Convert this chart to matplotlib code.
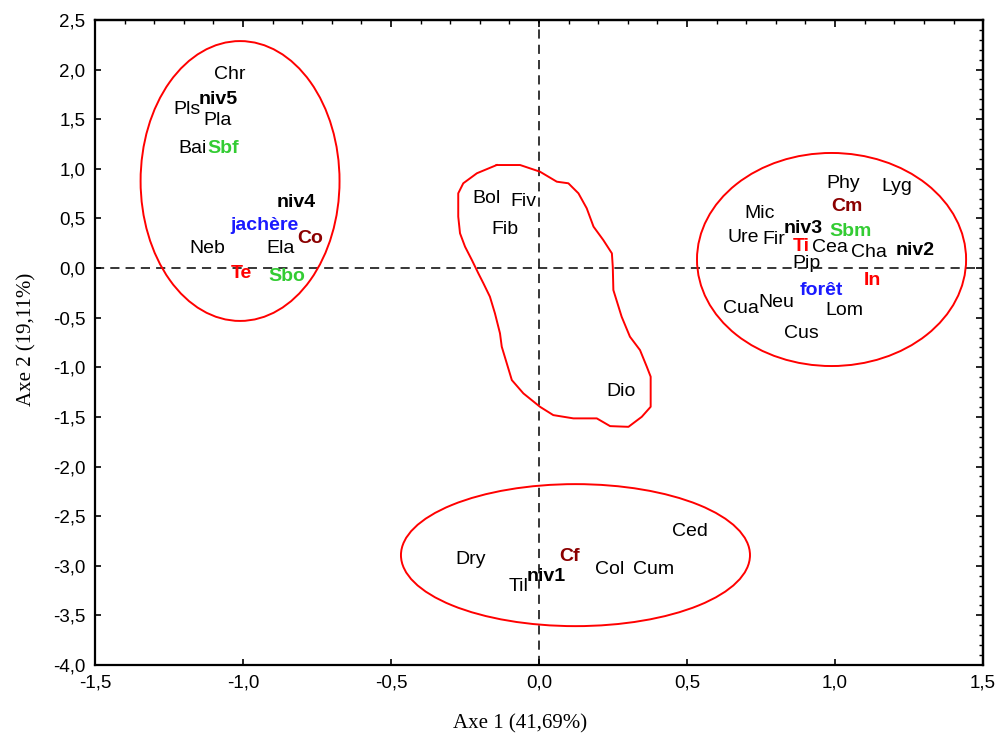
import numpy as np
import matplotlib
matplotlib.use("Agg")
import matplotlib.pyplot as plt
from matplotlib.patches import Ellipse
from matplotlib.ticker import MultipleLocator, FuncFormatter

# species / variables : name, axe 1, axe 2, kind
labels = ["Chr", "niv5", "Pls", "Pla", "Bai", "Sbf", "niv4", "jachère", "Co", "Neb", "Ela", "Te", "Sbo",
          "Phy", "Lyg", "Cm", "Mic", "niv3", "Sbm", "Ure", "Fir", "Ti", "Cea", "Cha", "niv2", "Pip", "In",
          "forêt", "Neu", "Cua", "Lom", "Cus",
          "Bol", "Fiv", "Fib", "Dio",
          "Ced", "Dry", "Cf", "Col", "Cum", "niv1", "Til"]
axe1 = [-1.046, -1.083, -1.190, -1.087, -1.170, -1.067, -0.819, -0.929, -0.774, -1.119, -0.873, -1.004, -0.852,
        1.026, 1.208, 1.039, 0.744, 0.893, 1.053, 0.690, 0.794, 0.884, 0.983, 1.113, 1.270, 0.902, 1.126,
        0.952, 0.801, 0.681, 1.031, 0.885,
        -0.177, -0.053, -0.115, 0.277,
        0.510, -0.231, 0.102, 0.240, 0.386, 0.023, -0.070]
axe2 = [1.953, 1.700, 1.600, 1.490, 1.207, 1.207, 0.659, 0.433, 0.300, 0.198, 0.198, -0.054, -0.081,
        0.854, 0.820, 0.625, 0.551, 0.400, 0.373, 0.309, 0.292, 0.222, 0.209, 0.154, 0.181, 0.047, -0.128,
        -0.229, -0.350, -0.406, -0.423, -0.658,
        0.702, 0.668, 0.390, -1.247,
        -2.658, -2.933, -2.910, -3.037, -3.037, -3.105, -3.206]
kinds = ["sp", "niv", "sp", "sp", "sp", "sol", "niv", "usage", "cult", "sp", "sp", "topo", "sol",
         "sp", "sp", "cult", "sp", "niv", "sol", "sp", "sp", "topo", "sp", "sp", "niv", "sp", "topo",
         "usage", "sp", "sp", "sp", "sp",
         "sp", "sp", "sp", "sp",
         "sp", "sp", "cult", "sp", "sp", "niv", "sp"]

kind_color = {"sp": "black", "niv": "black", "sol": "#33cc33", "usage": "#1a1aff",
              "cult": "#8b0000", "topo": "#ff0000"}

# groups drawn as ellipses: centre x, centre y, width, height
ell_x = [-1.010, 0.988, 0.123]
ell_y = [0.877, 0.086, -2.893]
ell_w = [0.672, 0.909, 1.179]
ell_h = [2.82, 2.147, 1.431]

# outline of the central group
blob_x = [-0.143, -0.064, 0.003, 0.060, 0.099, 0.133, 0.161, 0.184, 0.217, 0.246, 0.249, 0.251, 0.279,
          0.307, 0.341, 0.364, 0.377, 0.377, 0.347, 0.302, 0.240, 0.195, 0.116, 0.048, 0.003, -0.053,
          -0.092, -0.109, -0.126, -0.132, -0.149, -0.166, -0.188, -0.205, -0.227, -0.250, -0.267,
          -0.273, -0.273, -0.256, -0.210, -0.143]
blob_y = [1.038, 1.038, 0.971, 0.870, 0.854, 0.753, 0.602, 0.417, 0.282, 0.148, 0.013, -0.222, -0.491,
          -0.692, -0.827, -0.995, -1.095, -1.398, -1.499, -1.600, -1.593, -1.515, -1.515, -1.482, -1.398,
          -1.263, -1.129, -0.961, -0.793, -0.658, -0.457, -0.289, -0.154, -0.054, 0.081, 0.215, 0.350,
          0.518, 0.753, 0.854, 0.955, 1.038]

fig = plt.figure(figsize=(9.99, 7.44), dpi=100)
ax = fig.add_axes([0.0951, 0.1062, 0.889, 0.867])

for cx, cy, w, h in zip(ell_x, ell_y, ell_w, ell_h):
    ax.add_patch(Ellipse((cx, cy), w, h, fill=False, edgecolor="#ff0000", linewidth=1.4, zorder=2))
ax.plot(blob_x, blob_y, color="#ff0000", linewidth=1.4, zorder=2)

ax.axhline(0, color="black", linestyle=(0, (6, 4)), linewidth=1.1, zorder=1)
ax.axvline(0, color="black", linestyle=(0, (6, 4)), linewidth=1.1, zorder=1)

for name, x, y, k in zip(labels, axe1, axe2, kinds):
    bold = k != "sp"
    ax.text(x, y, name, ha="center", va="center", fontsize=14, family="Liberation Sans",
            fontweight="bold" if bold else "normal", color=kind_color[k], zorder=3)

ax.set_xlim(-1.5, 1.5)
ax.set_ylim(-4.0, 2.5)
ax.xaxis.set_major_locator(MultipleLocator(0.5))
ax.yaxis.set_major_locator(MultipleLocator(0.5))
fmt = FuncFormatter(lambda v, p: ("%.1f" % v).replace(".", ","))
ax.xaxis.set_major_formatter(fmt)
ax.yaxis.set_major_formatter(fmt)
ax.tick_params(direction="in", length=4, width=1.2, labelsize=13.5, pad=7)
for lab in ax.get_xticklabels() + ax.get_yticklabels():
    lab.set_family("Liberation Sans")

# minor ticks on top and right
sec_x = ax.secondary_xaxis("top")
sec_x.xaxis.set_major_locator(MultipleLocator(0.5))
sec_x.xaxis.set_minor_locator(MultipleLocator(0.1))
sec_x.tick_params(which="major", direction="in", length=5, width=1.2, labeltop=False)
sec_x.tick_params(which="minor", direction="in", length=3, width=1.0)
sec_y = ax.secondary_yaxis("right")
sec_y.yaxis.set_major_locator(MultipleLocator(0.5))
sec_y.yaxis.set_minor_locator(MultipleLocator(0.1))
sec_y.tick_params(which="major", direction="in", length=5, width=1.2, labelright=False)
sec_y.tick_params(which="minor", direction="in", length=3, width=1.0)
sec_x.spines["top"].set_linewidth(1.6)
sec_y.spines["right"].set_linewidth(1.6)

for s in ax.spines.values():
    s.set_linewidth(1.6)

ax.set_xlabel("Axe 1 (41,69%)", family="Liberation Serif", fontsize=15)
ax.set_ylabel("Axe 2 (19,11%)", family="Liberation Serif", fontsize=15)
ax.xaxis.set_label_coords(0.479, -0.076)
ax.yaxis.set_label_coords(-0.066, 0.505)

fig.savefig("out.png", dpi=100)
